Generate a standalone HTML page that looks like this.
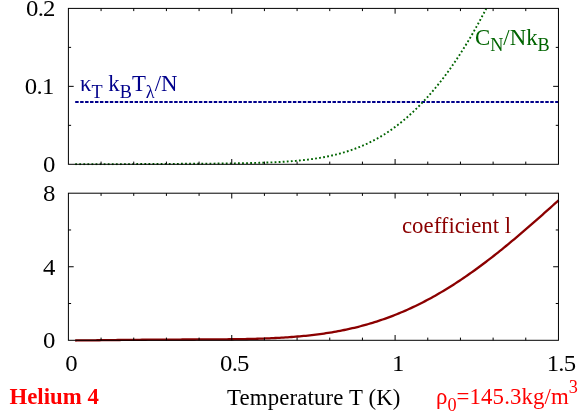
<!DOCTYPE html>
<html><head><meta charset="utf-8"><style>
html,body{margin:0;padding:0;background:#fff;}
svg{display:block;will-change:transform;filter:opacity(1);}
text{font-family:"Liberation Serif",serif;font-size:22.8px;font-variant-ligatures:none;}
.s{font-size:18.2px;}
.t{font-size:23.6px;letter-spacing:-0.7px;}
</style></head><body>
<svg width="586" height="411" viewBox="0 0 586 411">
<rect width="586" height="411" fill="#fff"/>
<defs><clipPath id="c1"><rect x="68.4" y="8.4" width="490.05000000000007" height="156.9"/></clipPath></defs>
<path d="M75.2,102.1 L558.45,102.1" stroke="#00008b" stroke-width="2" stroke-dasharray="3.45 1.498" fill="none"/>
<path d="M75.20,164.29 L76.94,164.30 L78.67,164.30 L80.41,164.30 L82.14,164.31 L83.88,164.31 L85.61,164.31 L87.35,164.31 L89.08,164.30 L90.82,164.30 L92.56,164.30 L94.29,164.29 L96.03,164.29 L97.76,164.28 L99.50,164.28 L101.23,164.27 L102.97,164.27 L104.70,164.26 L106.44,164.25 L108.18,164.24 L109.91,164.23 L111.65,164.23 L113.38,164.22 L115.12,164.21 L116.85,164.20 L118.59,164.19 L120.32,164.18 L122.06,164.17 L123.80,164.16 L125.53,164.15 L127.27,164.14 L129.00,164.13 L130.74,164.12 L132.47,164.10 L134.21,164.09 L135.94,164.08 L137.68,164.07 L139.42,164.06 L141.15,164.05 L142.89,164.04 L144.62,164.03 L146.36,164.02 L148.09,164.01 L149.83,164.00 L151.56,163.99 L153.30,163.98 L155.04,163.97 L156.77,163.96 L158.51,163.95 L160.24,163.94 L161.98,163.93 L163.71,163.92 L165.45,163.91 L167.18,163.90 L168.92,163.89 L170.66,163.88 L172.39,163.87 L174.13,163.86 L175.86,163.85 L177.60,163.84 L179.33,163.83 L181.07,163.82 L182.81,163.81 L184.54,163.80 L186.28,163.79 L188.01,163.77 L189.75,163.76 L191.48,163.75 L193.22,163.74 L194.95,163.73 L196.69,163.72 L198.43,163.71 L200.16,163.70 L201.90,163.68 L203.63,163.67 L205.37,163.66 L207.10,163.64 L208.84,163.63 L210.57,163.61 L212.31,163.60 L214.05,163.58 L215.78,163.57 L217.52,163.55 L219.25,163.53 L220.99,163.51 L222.72,163.49 L224.46,163.47 L226.19,163.45 L227.93,163.43 L229.67,163.41 L231.40,163.38 L233.14,163.36 L234.87,163.33 L236.61,163.31 L238.34,163.28 L240.08,163.25 L241.81,163.22 L243.55,163.18 L245.29,163.15 L247.02,163.11 L248.76,163.08 L250.49,163.04 L252.23,163.00 L253.96,162.95 L255.70,162.91 L257.43,162.86 L259.17,162.81 L260.91,162.76 L262.64,162.70 L264.38,162.64 L266.11,162.58 L267.85,162.52 L269.58,162.45 L271.32,162.38 L273.05,162.31 L274.79,162.23 L276.53,162.14 L278.26,162.06 L280.00,161.97 L281.73,161.87 L283.47,161.77 L285.20,161.66 L286.94,161.54 L288.67,161.42 L290.41,161.30 L292.15,161.17 L293.88,161.03 L295.62,160.88 L297.35,160.72 L299.09,160.56 L300.82,160.39 L302.56,160.21 L304.29,160.02 L306.03,159.82 L307.77,159.62 L309.50,159.40 L311.24,159.17 L312.97,158.93 L314.71,158.68 L316.44,158.42 L318.18,158.14 L319.91,157.86 L321.65,157.56 L323.39,157.25 L325.12,156.92 L326.86,156.58 L328.59,156.22 L330.33,155.85 L332.06,155.47 L333.80,155.07 L335.53,154.65 L337.27,154.22 L339.01,153.76 L340.74,153.30 L342.48,152.81 L344.21,152.30 L345.95,151.78 L347.68,151.24 L349.42,150.67 L351.15,150.09 L352.89,149.48 L354.63,148.86 L356.36,148.21 L358.10,147.54 L359.83,146.85 L361.57,146.13 L363.30,145.39 L365.04,144.63 L366.77,143.84 L368.51,143.02 L370.25,142.18 L371.98,141.31 L373.72,140.42 L375.45,139.50 L377.19,138.55 L378.92,137.57 L380.66,136.56 L382.39,135.52 L384.13,134.46 L385.87,133.36 L387.60,132.23 L389.34,131.07 L391.07,129.88 L392.81,128.65 L394.54,127.39 L396.28,126.10 L398.02,124.78 L399.75,123.42 L401.49,122.03 L403.22,120.61 L404.96,119.15 L406.69,117.66 L408.43,116.13 L410.16,114.57 L411.90,112.98 L413.64,111.35 L415.37,109.68 L417.11,107.98 L418.84,106.25 L420.58,104.48 L422.31,102.68 L424.05,100.84 L425.78,98.97 L427.52,97.06 L429.26,95.12 L430.99,93.14 L432.73,91.12 L434.46,89.07 L436.20,86.98 L437.93,84.85 L439.67,82.68 L441.40,80.48 L443.14,78.23 L444.88,75.94 L446.61,73.62 L448.35,71.24 L450.08,68.83 L451.82,66.37 L453.55,63.87 L455.29,61.33 L457.02,58.74 L458.76,56.10 L460.50,53.43 L462.23,50.71 L463.97,47.94 L465.70,45.13 L467.44,42.28 L469.17,39.38 L470.91,36.45 L472.64,33.46 L474.38,30.44 L476.12,27.37 L477.85,24.26 L479.59,21.10 L481.32,17.90 L483.06,14.65 L484.79,11.36 L486.53,8.03 L488.26,4.64 L490.00,1.21" stroke="#006400" stroke-width="1.9" stroke-dasharray="1.8 2.27" fill="none" clip-path="url(#c1)"/>
<path d="M75.20,340.48 L77.22,340.46 L79.25,340.45 L81.27,340.43 L83.29,340.41 L85.31,340.39 L87.34,340.37 L89.36,340.35 L91.38,340.33 L93.40,340.31 L95.43,340.28 L97.45,340.26 L99.47,340.24 L101.49,340.21 L103.52,340.19 L105.54,340.16 L107.56,340.14 L109.58,340.11 L111.61,340.09 L113.63,340.07 L115.65,340.04 L117.67,340.02 L119.70,339.99 L121.72,339.97 L123.74,339.95 L125.76,339.93 L127.79,339.90 L129.81,339.88 L131.83,339.86 L133.86,339.84 L135.88,339.82 L137.90,339.80 L139.92,339.78 L141.95,339.76 L143.97,339.75 L145.99,339.73 L148.01,339.71 L150.04,339.70 L152.06,339.68 L154.08,339.67 L156.10,339.65 L158.13,339.64 L160.15,339.63 L162.17,339.62 L164.19,339.60 L166.22,339.59 L168.24,339.58 L170.26,339.57 L172.28,339.56 L174.31,339.56 L176.33,339.55 L178.35,339.54 L180.37,339.53 L182.40,339.52 L184.42,339.52 L186.44,339.51 L188.47,339.50 L190.49,339.50 L192.51,339.49 L194.53,339.48 L196.56,339.47 L198.58,339.47 L200.60,339.46 L202.62,339.45 L204.65,339.44 L206.67,339.43 L208.69,339.42 L210.71,339.41 L212.74,339.40 L214.76,339.39 L216.78,339.38 L218.80,339.36 L220.83,339.35 L222.85,339.33 L224.87,339.31 L226.89,339.29 L228.92,339.27 L230.94,339.25 L232.96,339.23 L234.98,339.20 L237.01,339.17 L239.03,339.14 L241.05,339.10 L243.08,339.07 L245.10,339.03 L247.12,338.99 L249.14,338.94 L251.17,338.89 L253.19,338.84 L255.21,338.79 L257.23,338.73 L259.26,338.67 L261.28,338.60 L263.30,338.53 L265.32,338.46 L267.35,338.38 L269.37,338.29 L271.39,338.21 L273.41,338.11 L275.44,338.01 L277.46,337.91 L279.48,337.80 L281.50,337.68 L283.53,337.56 L285.55,337.43 L287.57,337.30 L289.59,337.16 L291.62,337.01 L293.64,336.86 L295.66,336.69 L297.69,336.52 L299.71,336.35 L301.73,336.16 L303.75,335.97 L305.78,335.77 L307.80,335.56 L309.82,335.34 L311.84,335.11 L313.87,334.87 L315.89,334.62 L317.91,334.37 L319.93,334.10 L321.96,333.82 L323.98,333.53 L326.00,333.23 L328.02,332.92 L330.05,332.60 L332.07,332.26 L334.09,331.92 L336.11,331.56 L338.14,331.19 L340.16,330.81 L342.18,330.41 L344.21,330.00 L346.23,329.58 L348.25,329.15 L350.27,328.70 L352.30,328.23 L354.32,327.76 L356.34,327.27 L358.36,326.76 L360.39,326.24 L362.41,325.71 L364.43,325.16 L366.45,324.59 L368.48,324.01 L370.50,323.42 L372.52,322.81 L374.54,322.18 L376.57,321.54 L378.59,320.88 L380.61,320.21 L382.63,319.52 L384.66,318.81 L386.68,318.09 L388.70,317.35 L390.72,316.59 L392.75,315.82 L394.77,315.03 L396.79,314.22 L398.82,313.40 L400.84,312.56 L402.86,311.70 L404.88,310.83 L406.91,309.94 L408.93,309.03 L410.95,308.10 L412.97,307.16 L415.00,306.20 L417.02,305.22 L419.04,304.22 L421.06,303.21 L423.09,302.18 L425.11,301.13 L427.13,300.07 L429.15,298.98 L431.18,297.89 L433.20,296.77 L435.22,295.63 L437.24,294.48 L439.27,293.31 L441.29,292.13 L443.31,290.93 L445.33,289.71 L447.36,288.47 L449.38,287.22 L451.40,285.95 L453.43,284.67 L455.45,283.36 L457.47,282.05 L459.49,280.71 L461.52,279.36 L463.54,278.00 L465.56,276.61 L467.58,275.22 L469.61,273.81 L471.63,272.38 L473.65,270.94 L475.67,269.48 L477.70,268.01 L479.72,266.52 L481.74,265.02 L483.76,263.51 L485.79,261.98 L487.81,260.44 L489.83,258.88 L491.85,257.32 L493.88,255.74 L495.90,254.14 L497.92,252.54 L499.94,250.92 L501.97,249.29 L503.99,247.65 L506.01,246.00 L508.04,244.34 L510.06,242.67 L512.08,240.99 L514.10,239.29 L516.13,237.59 L518.15,235.88 L520.17,234.16 L522.19,232.43 L524.22,230.70 L526.24,228.95 L528.26,227.20 L530.28,225.44 L532.31,223.68 L534.33,221.91 L536.35,220.13 L538.37,218.35 L540.40,216.56 L542.42,214.77 L544.44,212.97 L546.46,211.17 L548.49,209.37 L550.51,207.56 L552.53,205.75 L554.55,203.94 L556.58,202.13 L558.60,200.31" stroke="#8b0000" stroke-width="2.3" fill="none"/>
<g stroke="#000" stroke-width="1" fill="none">
<rect x="68.4" y="8.4" width="490.05000000000007" height="155.9"/>
<rect x="68.4" y="193.2" width="490.05000000000007" height="147.10000000000002"/>
<line x1="101.07" y1="164.30" x2="101.07" y2="161.60"/><line x1="101.07" y1="8.40" x2="101.07" y2="11.10"/><line x1="133.74" y1="164.30" x2="133.74" y2="161.60"/><line x1="133.74" y1="8.40" x2="133.74" y2="11.10"/><line x1="166.41" y1="164.30" x2="166.41" y2="161.60"/><line x1="166.41" y1="8.40" x2="166.41" y2="11.10"/><line x1="199.08" y1="164.30" x2="199.08" y2="161.60"/><line x1="199.08" y1="8.40" x2="199.08" y2="11.10"/><line x1="231.75" y1="164.30" x2="231.75" y2="159.00"/><line x1="231.75" y1="8.40" x2="231.75" y2="13.70"/><line x1="264.42" y1="164.30" x2="264.42" y2="161.60"/><line x1="264.42" y1="8.40" x2="264.42" y2="11.10"/><line x1="297.09" y1="164.30" x2="297.09" y2="161.60"/><line x1="297.09" y1="8.40" x2="297.09" y2="11.10"/><line x1="329.76" y1="164.30" x2="329.76" y2="161.60"/><line x1="329.76" y1="8.40" x2="329.76" y2="11.10"/><line x1="362.43" y1="164.30" x2="362.43" y2="161.60"/><line x1="362.43" y1="8.40" x2="362.43" y2="11.10"/><line x1="395.10" y1="164.30" x2="395.10" y2="159.00"/><line x1="395.10" y1="8.40" x2="395.10" y2="13.70"/><line x1="427.77" y1="164.30" x2="427.77" y2="161.60"/><line x1="427.77" y1="8.40" x2="427.77" y2="11.10"/><line x1="460.44" y1="164.30" x2="460.44" y2="161.60"/><line x1="460.44" y1="8.40" x2="460.44" y2="11.10"/><line x1="493.11" y1="164.30" x2="493.11" y2="161.60"/><line x1="493.11" y1="8.40" x2="493.11" y2="11.10"/><line x1="525.78" y1="164.30" x2="525.78" y2="161.60"/><line x1="525.78" y1="8.40" x2="525.78" y2="11.10"/><line x1="68.40" y1="125.33" x2="71.10" y2="125.33"/><line x1="558.45" y1="125.33" x2="555.75" y2="125.33"/><line x1="68.40" y1="86.35" x2="73.70" y2="86.35"/><line x1="558.45" y1="86.35" x2="553.15" y2="86.35"/><line x1="68.40" y1="47.38" x2="71.10" y2="47.38"/><line x1="558.45" y1="47.38" x2="555.75" y2="47.38"/><line x1="101.07" y1="340.30" x2="101.07" y2="337.60"/><line x1="101.07" y1="193.20" x2="101.07" y2="195.90"/><line x1="133.74" y1="340.30" x2="133.74" y2="337.60"/><line x1="133.74" y1="193.20" x2="133.74" y2="195.90"/><line x1="166.41" y1="340.30" x2="166.41" y2="337.60"/><line x1="166.41" y1="193.20" x2="166.41" y2="195.90"/><line x1="199.08" y1="340.30" x2="199.08" y2="337.60"/><line x1="199.08" y1="193.20" x2="199.08" y2="195.90"/><line x1="231.75" y1="340.30" x2="231.75" y2="335.00"/><line x1="231.75" y1="193.20" x2="231.75" y2="198.50"/><line x1="264.42" y1="340.30" x2="264.42" y2="337.60"/><line x1="264.42" y1="193.20" x2="264.42" y2="195.90"/><line x1="297.09" y1="340.30" x2="297.09" y2="337.60"/><line x1="297.09" y1="193.20" x2="297.09" y2="195.90"/><line x1="329.76" y1="340.30" x2="329.76" y2="337.60"/><line x1="329.76" y1="193.20" x2="329.76" y2="195.90"/><line x1="362.43" y1="340.30" x2="362.43" y2="337.60"/><line x1="362.43" y1="193.20" x2="362.43" y2="195.90"/><line x1="395.10" y1="340.30" x2="395.10" y2="335.00"/><line x1="395.10" y1="193.20" x2="395.10" y2="198.50"/><line x1="427.77" y1="340.30" x2="427.77" y2="337.60"/><line x1="427.77" y1="193.20" x2="427.77" y2="195.90"/><line x1="460.44" y1="340.30" x2="460.44" y2="337.60"/><line x1="460.44" y1="193.20" x2="460.44" y2="195.90"/><line x1="493.11" y1="340.30" x2="493.11" y2="337.60"/><line x1="493.11" y1="193.20" x2="493.11" y2="195.90"/><line x1="525.78" y1="340.30" x2="525.78" y2="337.60"/><line x1="525.78" y1="193.20" x2="525.78" y2="195.90"/><line x1="68.40" y1="303.52" x2="71.10" y2="303.52"/><line x1="558.45" y1="303.52" x2="555.75" y2="303.52"/><line x1="68.40" y1="266.75" x2="73.70" y2="266.75"/><line x1="558.45" y1="266.75" x2="553.15" y2="266.75"/><line x1="68.40" y1="229.97" x2="71.10" y2="229.97"/><line x1="558.45" y1="229.97" x2="555.75" y2="229.97"/>
</g>
<g fill="#000" text-anchor="end">
<text transform="translate(54.75,16.25) scale(1.05,1)" class="t">0.2</text><text transform="translate(53.6,94.20) scale(1.05,1)" class="t">0.1</text><text transform="translate(54.75,172.15) scale(1.05,1)" class="t">0</text>
<text transform="translate(54.75,201.05) scale(1.05,1)" class="t">8</text><text transform="translate(54.75,274.60) scale(1.05,1)" class="t">4</text><text transform="translate(54.75,348.15) scale(1.05,1)" class="t">0</text>
</g>
<g fill="#000" text-anchor="middle">
<text transform="translate(71.05,370.9) scale(1.05,1)" class="t">0</text><text transform="translate(234.40,370.9) scale(1.05,1)" class="t">0.5</text><text transform="translate(397.75,370.9) scale(1.05,1)" class="t">1</text><text transform="translate(561.10,370.9) scale(1.05,1)" class="t">1.5</text>
</g>
<text id="kap" x="80" y="91.4" fill="#00008b">κ<tspan class="s" dy="6.2">T</tspan><tspan dy="-6.2"> k</tspan><tspan class="s" dy="6.2">B</tspan><tspan dy="-6.2">T</tspan><tspan class="s" dy="6.2">λ</tspan><tspan dy="-6.2">/N</tspan></text>
<text id="cn" x="475" y="44.7" fill="#006400">C<tspan class="s" dy="6.2">N</tspan><tspan dy="-6.2">/Nk</tspan><tspan class="s" dy="6.2">B</tspan></text>
<text id="coef" x="402" y="232.8" fill="#8b0000">coefficient l</text>
<text id="he" x="9.5" y="403.8" fill="#ff0000" font-weight="bold">Helium 4</text>
<text id="temp" x="227" y="404.5" fill="#000" letter-spacing="0.15">Temperature T (K)</text>
<text id="rho" x="435.9" y="404.3" fill="#ff0000" letter-spacing="0.12">ρ<tspan class="s" dy="6.5">0</tspan><tspan dy="-6.5">=145.3kg/m</tspan><tspan class="s" dy="-11.4">3</tspan></text>
</svg>
</body></html>
